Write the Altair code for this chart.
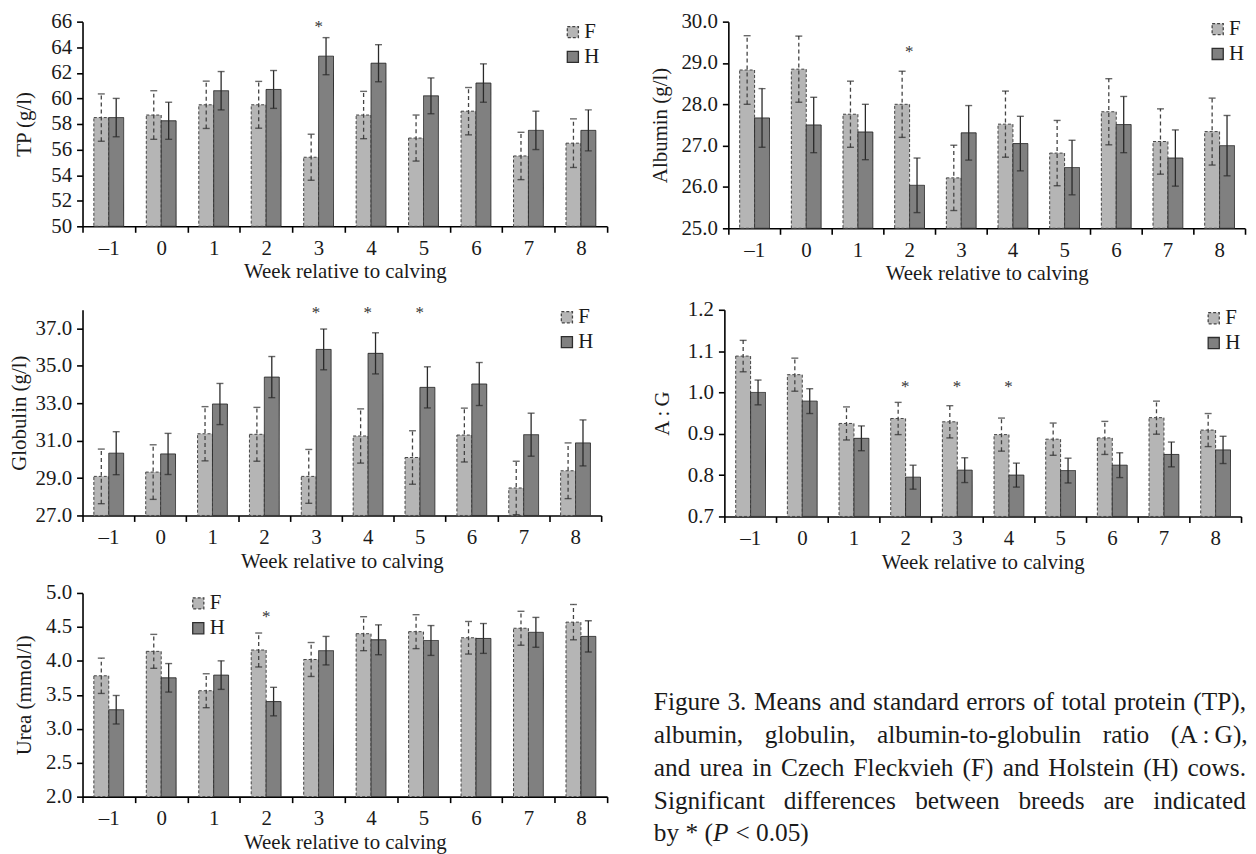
import altair as alt
import pandas as pd

# ---------------- data ----------------
WEEKS = ["\u20131", "0", "1", "2", "3", "4", "5", "6", "7", "8"]
BREEDS = ["F", "H"]

TP_F = [58.5, 58.7, 59.5, 59.5, 55.4, 58.7, 56.9, 59.0, 55.5, 56.5]
TP_F_SE = [1.85, 1.9, 1.85, 1.83, 1.8, 1.85, 1.8, 1.85, 1.85, 1.9]
TP_H = [58.5, 58.25, 60.6, 60.7, 63.3, 62.75, 60.2, 61.2, 57.5, 57.5]
TP_H_SE = [1.5, 1.45, 1.5, 1.48, 1.45, 1.45, 1.4, 1.5, 1.5, 1.6]
TP_STARS = ["3"]
TP_STAR_Y = 65.6

ALB_F = [28.83, 28.85, 27.76, 28.0, 26.22, 27.52, 26.82, 27.82, 27.1, 27.34]
ALB_F_SE = [0.83, 0.8, 0.8, 0.8, 0.79, 0.8, 0.79, 0.8, 0.79, 0.81]
ALB_H = [27.67, 27.5, 27.33, 26.04, 27.31, 27.05, 26.47, 27.51, 26.7, 27.0]
ALB_H_SE = [0.71, 0.67, 0.67, 0.66, 0.66, 0.66, 0.66, 0.68, 0.68, 0.73]
ALB_STARS = ["2"]
ALB_STAR_Y = 29.27

GLO_F = [29.09, 29.32, 31.37, 31.34, 29.09, 31.25, 30.1, 31.3, 28.47, 29.39]
GLO_F_SE = [1.46, 1.46, 1.45, 1.44, 1.44, 1.45, 1.43, 1.44, 1.43, 1.49]
GLO_H = [30.33, 30.29, 32.96, 34.4, 35.88, 35.67, 33.85, 34.03, 31.32, 30.88]
GLO_H_SE = [1.15, 1.1, 1.1, 1.1, 1.09, 1.1, 1.1, 1.15, 1.15, 1.23]
GLO_STARS = ["3", "4", "5"]
GLO_STAR_Y = 37.8

AG_F = [1.088, 1.043, 0.925, 0.937, 0.929, 0.898, 0.887, 0.890, 0.939, 0.909]
AG_F_SE = [0.038, 0.04, 0.04, 0.039, 0.039, 0.04, 0.039, 0.04, 0.04, 0.04]
AG_H = [1.0, 0.979, 0.889, 0.795, 0.812, 0.800, 0.811, 0.824, 0.850, 0.861]
AG_H_SE = [0.03, 0.03, 0.03, 0.029, 0.03, 0.029, 0.03, 0.03, 0.03, 0.033]
AG_STARS = ["2", "3", "4"]
AG_STAR_Y = 1.013

UREA_F = [3.78, 4.14, 3.56, 4.16, 4.02, 4.40, 4.43, 4.34, 4.48, 4.57]
UREA_F_SE = [0.26, 0.25, 0.25, 0.25, 0.25, 0.25, 0.25, 0.24, 0.25, 0.26]
UREA_H = [3.28, 3.75, 3.79, 3.40, 4.15, 4.31, 4.30, 4.33, 4.42, 4.36]
UREA_H_SE = [0.21, 0.21, 0.21, 0.21, 0.21, 0.22, 0.22, 0.22, 0.22, 0.23]
UREA_STARS = ["2"]
UREA_STAR_Y = 4.65

CAPTION_LINES = [
    "Figure 3. Means and standard errors of total protein (TP),",
    "albumin, globulin, albumin-to-globulin ratio (A\u2009:\u2009G),",
    "and urea in Czech Fleckvieh (F) and Holstein (H) cows.",
    "Significant differences between breeds are indicated",
]
# (text, italic, space after)
CAPTION_LAST = [("by * (", False, False), ("P", True, True), ("< 0.05)", False, False)]

# ---------------- style ----------------
FONT = "Liberation Serif"
F_FILL = "#b5b5b5"
H_FILL = "#808080"
F_EDGE = "#444444"
H_EDGE = "#2e2e2e"
TXT = "#1a1a1a"
AX = 21
CAP_FS = 25.5
CAP_W = 596


def make_df(f, fse, h, hse):
    df = pd.DataFrame({
        "week": WEEKS + WEEKS,
        "breed": ["F"] * len(WEEKS) + ["H"] * len(WEEKS),
        "mean": f + h,
        "se": fse + hse,
    })
    df["lo"] = df["mean"] - df["se"]
    df["hi"] = df["mean"] + df["se"]
    return df


def panel(f, fse, h, hse, star_weeks, star_y, ytitle, domain, ticks, fmt,
          width, height, lx, ly, ytp):
    df = make_df(f, fse, h, hse)
    stars = pd.DataFrame({"week": star_weeks, "y": [star_y] * len(star_weeks)})

    x = alt.X("week:N", sort=WEEKS, title="Week relative to calving",
              scale=alt.Scale(paddingInner=0, paddingOuter=0),
              axis=alt.Axis(labelAngle=0, tickBand="extent", labelPadding=5,
                            titlePadding=3))
    xo = alt.XOffset("breed:N", sort=BREEDS,
                     scale=alt.Scale(domain=BREEDS, paddingInner=0, paddingOuter=0.76))
    yscale = alt.Scale(domain=domain, nice=False, zero=False)
    yaxis = alt.Axis(values=ticks, format=fmt, titlePadding=ytp, labelPadding=5)

    def Y(field):
        return alt.Y(field, title=ytitle, scale=yscale, axis=yaxis)

    leg = alt.Legend(title=None, orient="none", legendX=lx, legendY=ly,
                     symbolType="square", symbolSize=125, symbolStrokeWidth=1.3,
                     labelFont=FONT, labelFontSize=AX, labelColor=TXT,
                     rowPadding=3, labelOffset=1)

    base = alt.Chart(df)
    bars = base.mark_bar(strokeWidth=1).encode(
        x=x, xOffset=xo, y=Y("mean:Q"), y2=alt.Y2(datum=domain[0]),
        color=alt.Color("breed:N", scale=alt.Scale(domain=BREEDS, range=[F_FILL, H_FILL]),
                        legend=leg),
        stroke=alt.Stroke("breed:N", scale=alt.Scale(domain=BREEDS, range=[F_EDGE, H_EDGE]),
                          legend=leg),
        strokeDash=alt.StrokeDash("breed:N",
                                  scale=alt.Scale(domain=BREEDS, range=[[3, 2], [1, 0]]),
                                  legend=leg),
    )
    err_f = base.transform_filter(alt.datum.breed == "F").mark_rule(
        color="#444444", strokeWidth=1.3, strokeDash=[4, 3]).encode(
        x=x, xOffset=xo, y=Y("lo:Q"), y2="hi:Q")
    err_h = base.transform_filter(alt.datum.breed == "H").mark_rule(
        color="#2a2a2a", strokeWidth=1.3).encode(
        x=x, xOffset=xo, y=Y("lo:Q"), y2="hi:Q")
    cap_lo = base.mark_tick(orient="horizontal", size=7, thickness=1.4,
                            color="#2a2a2a").encode(x=x, xOffset=xo, y=Y("lo:Q"))
    cap_hi = base.mark_tick(orient="horizontal", size=7, thickness=1.4,
                            color="#2a2a2a").encode(x=x, xOffset=xo, y=Y("hi:Q"))
    star = alt.Chart(stars).mark_text(text="*", font=FONT, fontSize=17, color="#333333",
                                      baseline="middle").encode(x=x, y=Y("y:Q"))
    return alt.layer(bars, err_f, err_h, cap_lo, cap_hi, star).properties(
        width=width, height=height)


tp = panel(TP_F, TP_F_SE, TP_H, TP_H_SE, TP_STARS, TP_STAR_Y, "TP (g/l)",
           [50, 66], list(range(50, 67, 2)), "d", 528, 206, 483, 0, 16)
alb = panel(ALB_F, ALB_F_SE, ALB_H, ALB_H_SE, ALB_STARS, ALB_STAR_Y, "Albumin (g/l)",
            [25, 30], [25, 26, 27, 28, 29, 30], ".1f", 520, 208, 482, -3, 11)
glo = panel(GLO_F, GLO_F_SE, GLO_H, GLO_H_SE, GLO_STARS, GLO_STAR_Y, "Globulin (g/l)",
            [27, 38], [27, 29, 31, 33, 35, 37], ".1f", 522, 207, 477, -3, 6)
ag = panel(AG_F, AG_F_SE, AG_H, AG_H_SE, AG_STARS, AG_STAR_Y, "A\u2009:\u2009G",
           [0.7, 1.2], [0.7, 0.8, 0.9, 1.0, 1.1, 1.2], ".1f", 520, 208, 482, -2, 15)
urea = panel(UREA_F, UREA_F_SE, UREA_H, UREA_H_SE, UREA_STARS, UREA_STAR_Y, "Urea (mmol/l)",
             [2, 5], [2.0, 2.5, 3.0, 3.5, 4.0, 4.5, 5.0], ".1f", 528, 205, 106, 0, 11)

# ---------------- caption (justified text layout) ----------------
TW = {" ": 250, "(": 333, ")": 333, "*": 500, ",": 250, "-": 333, ".": 250, ":": 278,
      "<": 564, "\u2009": 167,
      "A": 722, "C": 667, "F": 556, "G": 722, "H": 722, "M": 889, "P": 556, "S": 556,
      "T": 611, "a": 444, "b": 500, "c": 444, "d": 500, "e": 444, "f": 333, "g": 500,
      "h": 500, "i": 278, "k": 500, "l": 278, "m": 778, "n": 500, "o": 500, "p": 500,
      "r": 333, "s": 389, "t": 278, "u": 500, "v": 500, "w": 722, "y": 500, "z": 444}


def tw(s):
    return sum(TW.get(c, 500) for c in s) / 1000.0 * CAP_FS


LINE_Y0 = 110
LINE_DY = 33
rows = []
for i, line in enumerate(CAPTION_LINES):
    words = line.split(" ")
    total = sum(tw(w) for w in words)
    gap = (CAP_W - total) / (len(words) - 1)
    xpos = 0.0
    for w in words:
        rows.append({"t": w, "x": xpos, "y": LINE_Y0 + i * LINE_DY, "it": False})
        xpos += tw(w) + gap
xpos = 0.0
for piece, it, sp in CAPTION_LAST:
    rows.append({"t": piece, "x": xpos, "y": LINE_Y0 + 4 * LINE_DY, "it": it})
    xpos += tw(piece) + (0.08 * CAP_FS if it else 0) + (tw(" ") if sp else 0)
cap_df = pd.DataFrame(rows)

cap_base = alt.Chart(cap_df)
cap_norm = cap_base.transform_filter("!datum.it").mark_text(
    font=FONT, fontSize=CAP_FS, align="left", baseline="middle", color=TXT).encode(
    x=alt.X("x:Q", scale=None, axis=None), y=alt.Y("y:Q", scale=None, axis=None), text="t:N")
cap_it = cap_base.transform_filter("datum.it").mark_text(
    font=FONT, fontSize=CAP_FS, fontStyle="italic", align="left", baseline="middle",
    color=TXT).encode(
    x=alt.X("x:Q", scale=None, axis=None), y=alt.Y("y:Q", scale=None, axis=None), text="t:N")
caption = alt.layer(cap_norm, cap_it).properties(width=590, height=205)

RES = dict(color="independent", stroke="independent", strokeDash="independent")
row1 = alt.hconcat(tp, alb, spacing=41).resolve_scale(**RES)
row2 = alt.hconcat(glo, ag, spacing=49).resolve_scale(**RES)
row3 = alt.hconcat(urea, caption, spacing=46).resolve_scale(**RES)
top2 = alt.vconcat(row1, row2, spacing=15).resolve_scale(**RES)
chart = alt.vconcat(top2, row3, spacing=10).resolve_scale(**RES).properties(
    padding={"left": 0, "top": 0, "right": 0, "bottom": 0}
).configure_view(stroke=None).configure_axis(
    labelFont=FONT, titleFont=FONT, labelFontSize=AX, titleFontSize=AX,
    titleFontWeight="normal", labelColor=TXT, titleColor=TXT,
    domainColor="#000000", tickColor="#000000", domainWidth=1.6, tickWidth=1.6,
    tickSize=6, grid=False
)

chart.save("out.html", embed_options={"renderer": "svg", "actions": False})
